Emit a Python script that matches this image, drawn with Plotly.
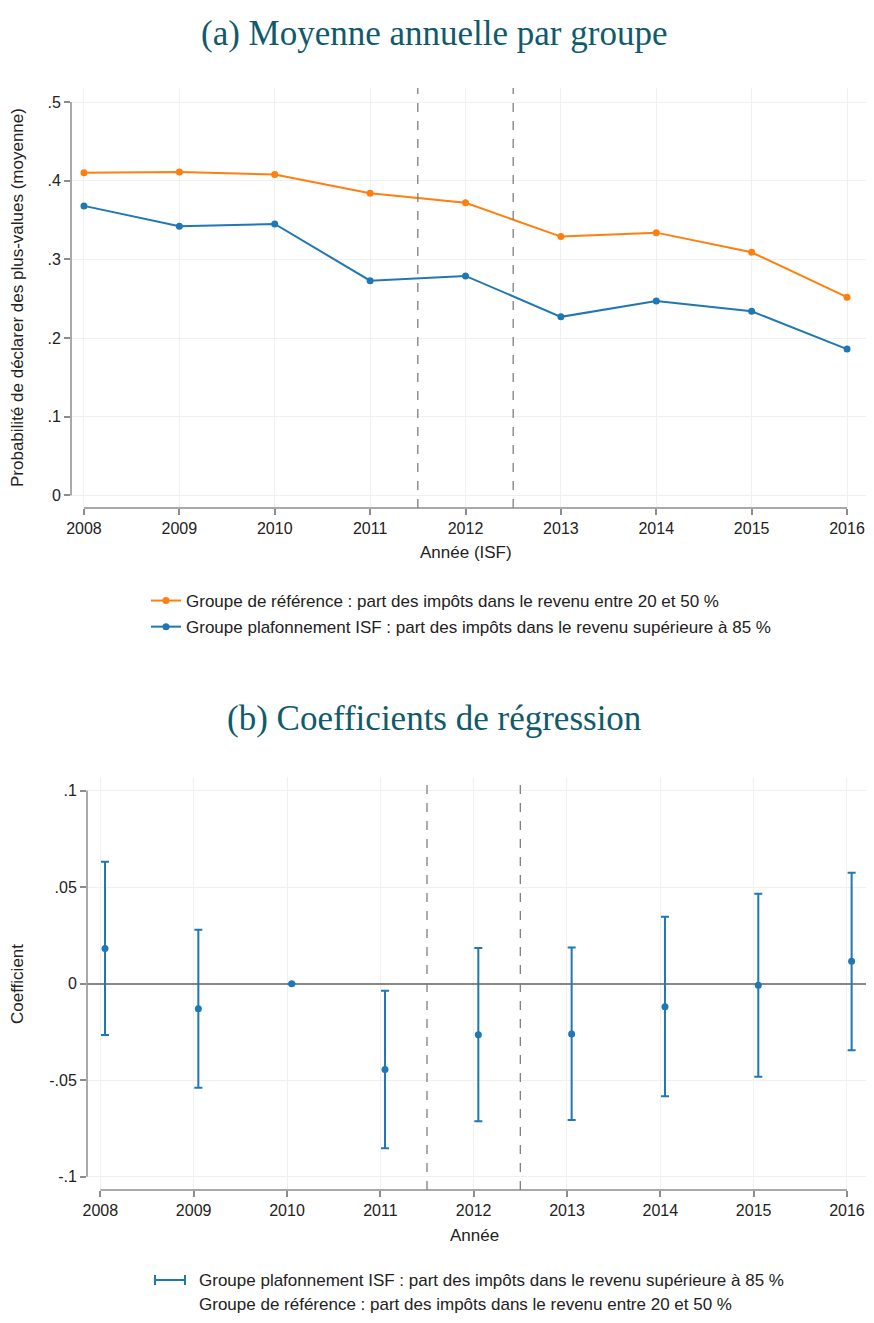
import plotly.graph_objects as go
from plotly.subplots import make_subplots

# --- data ---
years = [2008, 2009, 2010, 2011, 2012, 2013, 2014, 2015, 2016]

# (a) yearly mean probability of declaring capital gains
ref_mean = [0.410, 0.411, 0.408, 0.384, 0.372, 0.329, 0.334, 0.309, 0.252]
cap_mean = [0.368, 0.342, 0.345, 0.273, 0.279, 0.227, 0.247, 0.234, 0.186]

# (b) regression coefficients with confidence intervals (2010 = reference year)
coef = [0.0183, -0.0130, 0.0, -0.0444, -0.0264, -0.0261, -0.0119, -0.0008, 0.0116]
ci_hi = [0.0632, 0.0280, None, -0.0036, 0.0185, 0.0187, 0.0347, 0.0466, 0.0575]
ci_lo = [-0.0266, -0.0539, None, -0.0853, -0.0713, -0.0706, -0.0583, -0.0482, -0.0345]

ytick_a = [0, 0.1, 0.2, 0.3, 0.4, 0.5]
ytick_a_text = ['0', '.1', '.2', '.3', '.4', '.5']
ytick_b = [-0.1, -0.05, 0, 0.05, 0.1]
ytick_b_text = ['-.1', '-.05', '0', '.05', '.1']

lab_ref = "Groupe de référence : part des impôts dans le revenu entre 20 et 50 %"
lab_cap = "Groupe plafonnement ISF : part des impôts dans le revenu supérieure à 85 %"

ORANGE = '#ff7f0e'
BLUE = '#1f77b4'
AXIS = '#8c8c8c'
GRID = '#f0f0f0'
TITLE = '#0f5a6b'
SANS = 'Liberation Sans, Arial, sans-serif'
SERIF = 'Liberation Serif, Times New Roman, serif'

# page is 874x1323, the html body adds an 8px margin around the figure
PAGE_W, PAGE_H, BODY = 874, 1323, 8
W, H = PAGE_W - 2 * BODY, PAGE_H - 2 * BODY


def px(x):
    return (x - BODY) / W


def py(y):
    return 1 - (y - BODY) / H


fig = make_subplots(rows=2, cols=1)

# panel (a)
fig.add_trace(go.Scatter(x=years, y=ref_mean, mode='lines+markers', name=lab_ref,
                         line=dict(color=ORANGE, width=2), marker=dict(size=7, color=ORANGE),
                         legendgroup='a1'), row=1, col=1)
fig.add_trace(go.Scatter(x=years, y=cap_mean, mode='lines+markers', name=lab_cap,
                         line=dict(color=BLUE, width=2), marker=dict(size=7, color=BLUE),
                         legendgroup='a2'), row=1, col=1)

# panel (b)
err_up = [None if h is None else h - c for h, c in zip(ci_hi, coef)]
err_dn = [None if l is None else c - l for l, c in zip(ci_lo, coef)]
fig.add_trace(go.Scatter(x=[y + 0.05 for y in years], y=coef, mode='markers', name=lab_cap,
                         marker=dict(size=7, color=BLUE), showlegend=False,
                         error_y=dict(type='data', symmetric=False, array=err_up, arrayminus=err_dn,
                                      color=BLUE, thickness=2, width=4)), row=2, col=1)

tick_font = dict(family=SANS, size=16, color='#222')
lab_font = dict(family=SANS, size=17, color='#222')
common_x = dict(tickvals=years, ticks='outside', ticklen=6, tickcolor=AXIS, tickwidth=1.5,
                showline=False, showgrid=True, gridcolor=GRID, zeroline=False,
                tickfont=tick_font, automargin=False, ticklabeloverflow='allow')
common_y = dict(ticks='outside', ticklen=6, tickcolor=AXIS, tickwidth=1.5,
                showline=False, showgrid=True, gridcolor=GRID,
                tickfont=tick_font, automargin=False)

fig.update_xaxes(common_x, range=[2007.864, 2016.199], domain=[px(71), px(866)], row=1, col=1)
fig.update_yaxes(common_y, range=[-0.0159, 0.5178], tickvals=ytick_a, ticktext=ytick_a_text,
                 zeroline=False, domain=[py(508), py(88)], row=1, col=1)
fig.update_xaxes(common_x, range=[2007.857, 2016.204], domain=[px(87), px(866)], row=2, col=1)
fig.update_yaxes(common_y, range=[-0.1069, 0.1071], tickvals=ytick_b, ticktext=ytick_b_text,
                 zeroline=True, zerolinecolor='#888888', zerolinewidth=1.5,
                 domain=[py(1190), py(777)], row=2, col=1)

# Stata-like axis lines spanning only the data range, plus the reform markers
for xr, yr, x0, x1, y0, y1 in [('x', 'y', 2008, 2016, 0.0, 0.5), ('x2', 'y2', 2008, 2016, -0.1, 0.1)]:
    fig.add_shape(type='line', xref=xr, yref=yr + ' domain', x0=x0, x1=x1, y0=0, y1=0,
                  line=dict(color=AXIS, width=1.5))
    fig.add_shape(type='line', xref=xr + ' domain', yref=yr, x0=0, x1=0, y0=y0, y1=y1,
                  line=dict(color=AXIS, width=1.5))
    for xv in [2011.5, 2012.5]:
        fig.add_shape(type='line', xref=xr, yref=yr + ' domain', x0=xv, x1=xv, y0=0, y1=1,
                      line=dict(color='#7f7f7f', width=1.3, dash='dash'))

annotations = [
    dict(text='(a) Moyenne annuelle par groupe', x=px(434), y=py(33), font=dict(family=SERIF, size=35, color=TITLE)),
    dict(text='(b) Coefficients de régression', x=px(434), y=py(718), font=dict(family=SERIF, size=35, color=TITLE)),
    dict(text='Année (ISF)', x=px(466), y=py(552), font=lab_font),
    dict(text='Année', x=px(474), y=py(1235), font=lab_font),
    dict(text='Probabilité de déclarer des plus-values (moyenne)', x=px(18), y=py(298), textangle=-90,
         font=lab_font),
    dict(text='Coefficient', x=px(18), y=py(984), textangle=-90, font=lab_font),
    dict(text=lab_cap, x=px(197), y=py(1280), xanchor='left', font=lab_font),
    dict(text=lab_ref, x=px(197), y=py(1304), xanchor='left', font=lab_font),
]
for a in annotations:
    a.setdefault('xanchor', 'center')
    fig.add_annotation(xref='paper', yref='paper', yanchor='middle', showarrow=False, **a)

# legend symbol of panel (b): a capped range bar
fig.add_shape(type='line', xref='paper', yref='paper', x0=px(155), x1=px(185), y0=py(1280), y1=py(1280),
              line=dict(color=BLUE, width=2))
for xe in [155, 185]:
    fig.add_shape(type='line', xref='paper', yref='paper', x0=px(xe), x1=px(xe), y0=py(1275), y1=py(1285),
                  line=dict(color=BLUE, width=2))

fig.update_layout(
    width=W, height=H,
    margin=dict(l=0, r=0, t=0, b=0),
    plot_bgcolor='white', paper_bgcolor='white',
    legend=dict(x=px(146), y=py(583), xanchor='left', yanchor='top', traceorder='grouped',
                tracegroupgap=1, font=lab_font, bgcolor='rgba(0,0,0,0)'),
)

fig.write_html("out.html")
